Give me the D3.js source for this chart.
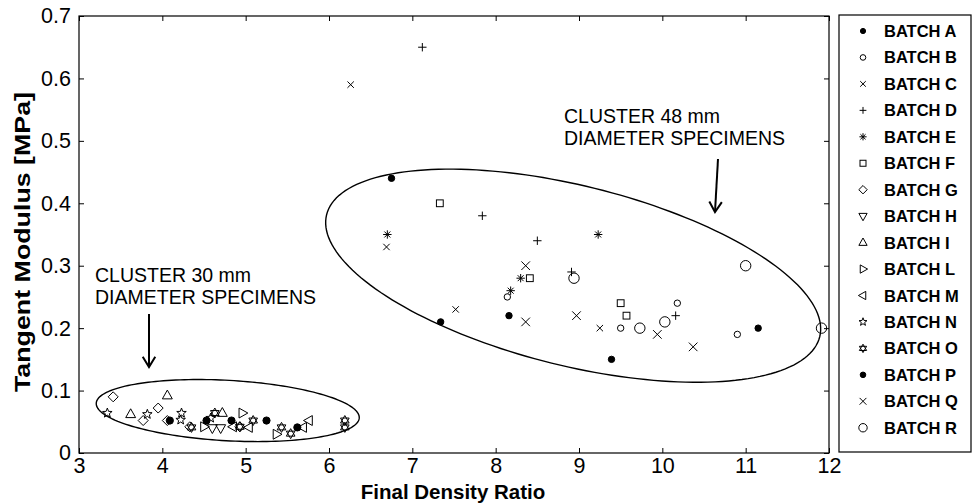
<!DOCTYPE html>
<html><head><meta charset="utf-8">
<script src="https://cdn.jsdelivr.net/npm/d3@7"></script>
<style>
html,body{margin:0;padding:0;background:#fff;}
svg text{font-family:"Liberation Sans",Arial,Helvetica,sans-serif;}
</style></head>
<body><svg id="chart" width="974" height="503"></svg>
<script>
// ---------- DATA ----------
const batches = ["BATCH A","BATCH B","BATCH C","BATCH D","BATCH E","BATCH F","BATCH G","BATCH H","BATCH I","BATCH L","BATCH M","BATCH N","BATCH O","BATCH P","BATCH Q","BATCH R"];
const xTicks = [3,4,5,6,7,8,9,10,11,12];
const yTicks = [0,0.1,0.2,0.3,0.4,0.5,0.6,0.7];
const yTickLabels = ["0","0.1","0.2","0.3","0.4","0.5","0.6","0.7"];
const batchA = [[6.75,0.44],[7.34,0.21],[8.16,0.22],[9.39,0.15],[11.15,0.20]];
const batchB = [[8.14,0.25],[9.50,0.20],[10.18,0.24],[10.90,0.19]];
const batchC = [[6.26,0.59],[6.69,0.33],[7.52,0.23],[9.25,0.20]];
const batchD = [[7.12,0.65],[7.84,0.38],[8.50,0.34],[8.91,0.29],[10.16,0.22]];
const batchE = [[6.70,0.35],[8.30,0.28],[8.18,0.26],[9.23,0.35]];
const batchF = [[7.33,0.40],[8.41,0.28],[9.50,0.24],[9.57,0.22]];
const batchG = [[3.41,0.090],[3.77,0.052],[3.95,0.072],[4.06,0.052],[4.33,0.042],[4.93,0.042]];
const batchH = [[4.60,0.040],[4.70,0.040]];
const batchI = [[3.62,0.062],[4.06,0.092],[4.72,0.064]];
const batchL = [[4.50,0.042],[4.96,0.064],[5.37,0.030]];
const batchM = [[4.85,0.042],[5.04,0.041],[5.69,0.041],[5.76,0.052]];
const batchN = [[3.34,0.064],[3.82,0.062],[4.23,0.064],[4.22,0.053],[4.58,0.056]];
const batchO = [[4.35,0.041],[4.63,0.064],[4.93,0.042],[5.09,0.052],[5.43,0.041],[5.54,0.031],[6.19,0.052],[6.19,0.041]];
const batchP = [[4.09,0.052],[4.53,0.052],[4.83,0.052],[5.25,0.052],[5.62,0.041]];
const batchQ = [[8.36,0.30],[8.36,0.21],[8.97,0.22],[9.94,0.19],[10.37,0.17]];
const batchR = [[8.94,0.28],[9.73,0.20],[10.03,0.21],[11.00,0.30],[11.91,0.20]];
const seriesValues = [batchA,batchB,batchC,batchD,batchE,batchF,batchG,batchH,batchI,batchL,batchM,batchN,batchO,batchP,batchQ,batchR];
const clusterLabels = [["CLUSTER 30 mm","DIAMETER SPECIMENS"],["CLUSTER 48 mm","DIAMETER SPECIMENS"]];

// ---------- LAYOUT ----------
const svg = d3.select("#chart");
const L = 79, R = 829, T = 16, B = 453;
const x = d3.scaleLinear().domain([3,12]).range([L,R]);
const y = d3.scaleLinear().domain([0,0.7]).range([B,T]);

// marker styles per batch: [type, size(px), filled]
const mk = [
  ["dot",3.2,true],["circle",3.2,false],["x",3.2,false],["plus",4.2,false],["star6",4.2,false],
  ["square",3.4,false],["diamond",5,false],["tdown",5.5,false],["tup",5.5,false],["tright",5.5,false],
  ["tleft",5.5,false],["pent",5,false],["hex",5,false],["dot",3.6,true],["x",4.3,false],["circle",5.2,false]
];
const legMk = [
  ["dot",2.6,true],["circle",2.8,false],["x",2.8,false],["plus",3.4,false],["star6",3.6,false],
  ["square",3,false],["diamond",4.2,false],["tdown",4.6,false],["tup",4.6,false],["tright",4.6,false],
  ["tleft",4.6,false],["pent",4.2,false],["hex",4.2,false],["dot",2.8,true],["x",3.4,false],["circle",4.2,false]
];

function starPath(n, ro, ri){
  let p=[];
  for(let i=0;i<2*n;i++){
    const r = i%2===0?ro:ri;
    const a = -Math.PI/2 + i*Math.PI/n;
    p.push([r*Math.cos(a), r*Math.sin(a)]);
  }
  return "M"+p.map(d=>d[0].toFixed(2)+","+d[1].toFixed(2)).join("L")+"Z";
}
function hexagram(r){
  const t1=[],t2=[];
  for(let i=0;i<3;i++){
    const a1=-Math.PI/2+i*2*Math.PI/3, a2=Math.PI/2+i*2*Math.PI/3;
    t1.push([r*Math.cos(a1),r*Math.sin(a1)]); t2.push([r*Math.cos(a2),r*Math.sin(a2)]);
  }
  const f=a=>"M"+a.map(d=>d[0].toFixed(2)+","+d[1].toFixed(2)).join("L")+"Z";
  return f(t1)+f(t2);
}
function tri(s, dir){
  const pts = {up:[[0,-s],[s*0.9,s*0.6],[-s*0.9,s*0.6]],
               down:[[0,s],[s*0.9,-s*0.6],[-s*0.9,-s*0.6]],
               right:[[s,0],[-s*0.6,s*0.9],[-s*0.6,-s*0.9]],
               left:[[-s,0],[s*0.6,s*0.9],[s*0.6,-s*0.9]]}[dir];
  return "M"+pts.map(d=>d.join(",")).join("L")+"Z";
}
function drawMarker(g, type, s, filled){
  const common = e => e.attr("stroke","#000").attr("stroke-width",1).attr("fill", filled?"#000":"none");
  switch(type){
    case "dot": common(g.append("circle").attr("r",s)); break;
    case "circle": common(g.append("circle").attr("r",s)); break;
    case "x": g.append("path").attr("d",`M${-s},${-s}L${s},${s}M${-s},${s}L${s},${-s}`).attr("stroke","#000").attr("fill","none"); break;
    case "plus": g.append("path").attr("d",`M${-s},0L${s},0M0,${-s}L0,${s}`).attr("stroke","#000").attr("fill","none"); break;
    case "star6": {
      const d=[];for(let i=0;i<4;i++){const a=i*Math.PI/4;d.push(`M${(-s*Math.cos(a)).toFixed(2)},${(-s*Math.sin(a)).toFixed(2)}L${(s*Math.cos(a)).toFixed(2)},${(s*Math.sin(a)).toFixed(2)}`);}
      g.append("path").attr("d",d.join("")).attr("stroke","#000").attr("fill","none"); break; }
    case "square": common(g.append("rect").attr("x",-s).attr("y",-s).attr("width",2*s).attr("height",2*s)); break;
    case "diamond": common(g.append("path").attr("d",`M0,${-s}L${s},0L0,${s}L${-s},0Z`)); break;
    case "tup": common(g.append("path").attr("d",tri(s,"up"))); break;
    case "tdown": common(g.append("path").attr("d",tri(s,"down"))); break;
    case "tright": common(g.append("path").attr("d",tri(s,"right"))); break;
    case "tleft": common(g.append("path").attr("d",tri(s,"left"))); break;
    case "pent": common(g.append("path").attr("d",starPath(5,s,s*0.42))); break;
    case "hex": common(g.append("path").attr("d",hexagram(s))); break;
  }
}

// axes box
svg.append("rect").attr("x",L).attr("y",T).attr("width",R-L).attr("height",B-T)
  .attr("fill","none").attr("stroke","#000").attr("stroke-width",1.2);

const axB = svg.append("g").attr("transform",`translate(0,${B})`)
  .call(d3.axisBottom(x).tickValues(xTicks).tickSize(-5).tickPadding(5).tickFormat(d3.format("d")));
const axT = svg.append("g").attr("transform",`translate(0,${T})`)
  .call(d3.axisTop(x).tickValues(xTicks).tickSize(-5).tickFormat(""));
const axL = svg.append("g").attr("transform",`translate(${L},0)`)
  .call(d3.axisLeft(y).tickValues(yTicks).tickSize(-5).tickPadding(8).tickFormat((d,i)=>yTickLabels[i]));
const axR = svg.append("g").attr("transform",`translate(${R},0)`)
  .call(d3.axisRight(y).tickValues(yTicks).tickSize(-5).tickFormat(""));
[axB,axT,axL,axR].forEach(a=>{
  a.select(".domain").remove();
  a.selectAll("line").attr("stroke","#000");
  a.selectAll("text").attr("font-size",21.5).attr("fill","#000")
   .attr("font-family","'Liberation Sans',Arial,sans-serif");
});

// axis titles
svg.append("text").attr("x",453).attr("y",499).attr("text-anchor","middle")
  .attr("font-size",20.5).attr("font-weight","bold").text("Final Density Ratio");
svg.append("text").attr("transform",`translate(30,242) rotate(-90)`).attr("text-anchor","middle")
  .attr("font-size",22).attr("font-weight","bold").attr("textLength",300).attr("lengthAdjust","spacingAndGlyphs")
  .text("Tangent Modulus [MPa]");

// ellipses (center in data units, axes in px, rotation deg)
const ellipses = [
  {cx:4.785, cy:0.068, a:131.7, b:30.2, rot:3.2},
  {cx:8.93, cy:0.284, a:254, b:90, rot:13.9}
];
ellipses.forEach(e=>{
  const px=x(e.cx), py=y(e.cy), th=e.rot*Math.PI/180;
  const pts=d3.range(0,361,2).map(t=>{const r=t*Math.PI/180;
    return [px+e.a*Math.cos(r)*Math.cos(th)-e.b*Math.sin(r)*Math.sin(th),
            py+e.a*Math.cos(r)*Math.sin(th)+e.b*Math.sin(r)*Math.cos(th)];});
  svg.append("path").attr("d",d3.line()(pts)+"Z").attr("fill","none").attr("stroke","#000").attr("stroke-width",1.4);
});

// data points
seriesValues.forEach((vals,i)=>{
  vals.forEach(v=>{
    const g = svg.append("g").attr("transform",`translate(${x(v[0])},${y(v[1])})`);
    drawMarker(g, mk[i][0], mk[i][1], mk[i][2]);
  });
});

// annotations
const ann = [{x:95,y:282},{x:564,y:123}];
ann.forEach((a,i)=>{
  clusterLabels[i].forEach((t,j)=>{
    svg.append("text").attr("x",a.x).attr("y",a.y+j*21.5).attr("font-size",19.5).text(t);
  });
});
// arrows
const arrows = [[149,314,149,367],[718,159,715,212]];
arrows.forEach(a=>{
  svg.append("line").attr("x1",a[0]).attr("y1",a[1]).attr("x2",a[2]).attr("y2",a[3]).attr("stroke","#000").attr("stroke-width",2);
  const ang=Math.atan2(a[3]-a[1],a[2]-a[0]);
  const hl=12, hw=0.55;
  const p1=[a[2]-hl*Math.cos(ang-hw),a[3]-hl*Math.sin(ang-hw)];
  const p2=[a[2]-hl*Math.cos(ang+hw),a[3]-hl*Math.sin(ang+hw)];
  svg.append("path").attr("d",`M${p1}L${a[2]},${a[3]}L${p2}`).attr("fill","none").attr("stroke","#000").attr("stroke-width",2);
});

// legend
const lg = svg.append("g");
lg.append("rect").attr("x",839).attr("y",15).attr("width",132).attr("height",437)
  .attr("fill","#fff").attr("stroke","#000").attr("stroke-width",1.2);
batches.forEach((b,i)=>{
  const yy = 31 + i*26.45;
  const g = lg.append("g").attr("transform",`translate(863,${yy})`);
  drawMarker(g, legMk[i][0], legMk[i][1], legMk[i][2]);
  lg.append("text").attr("x",884).attr("y",yy+6).attr("font-size",16.5).attr("font-weight","bold").text(b);
});
</script></body></html>
